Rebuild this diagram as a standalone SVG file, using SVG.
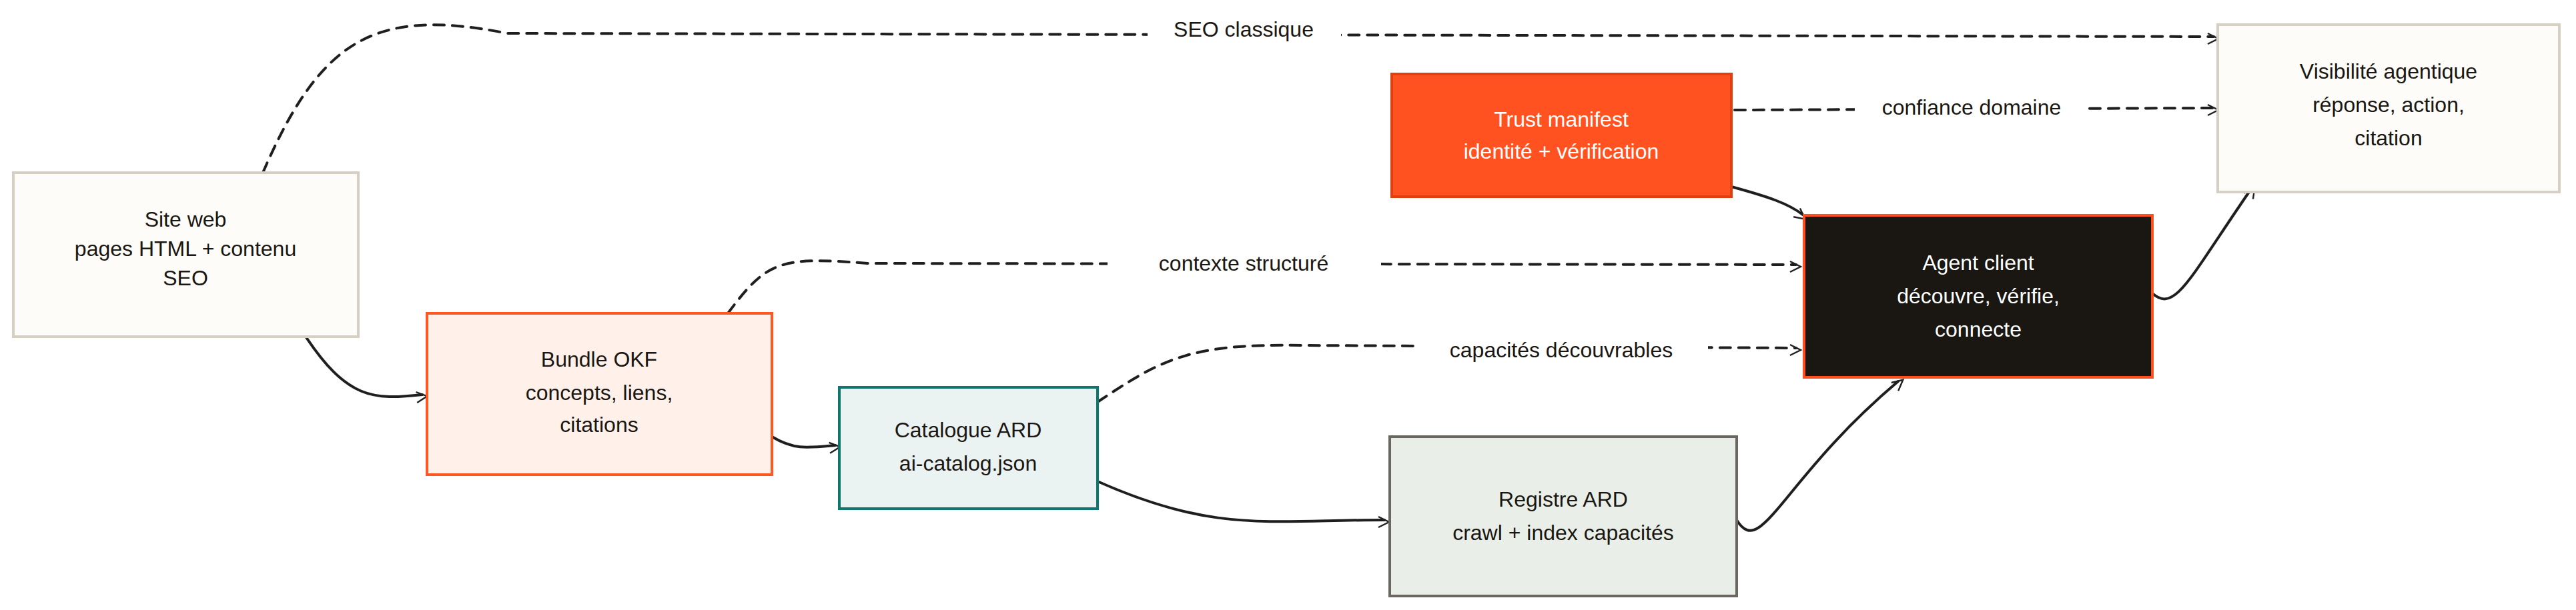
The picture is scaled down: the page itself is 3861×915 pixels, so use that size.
<svg xmlns="http://www.w3.org/2000/svg" width="3861" height="915" viewBox="0 0 3861 915">
<defs>
<style>
.t{font-family:"Liberation Sans",Arial,sans-serif;font-size:32px;fill:#1a1612;text-anchor:middle}
.w{fill:#ffffff}
.lbl{font-family:"Liberation Sans",Arial,sans-serif;font-size:32px;fill:#1a1612;text-anchor:middle}
.e{fill:none;stroke:#1e1e1e;stroke-width:4;stroke-linecap:round}
.d{stroke-dasharray:16 12}
</style>
<marker id="a" viewBox="0 0 20 20" refX="18" refY="10" markerWidth="10" markerHeight="10" markerUnits="userSpaceOnUse" orient="auto" overflow="visible">
<path d="M0,0 L20,10 L0,20" fill="none" stroke="#1e1e1e" stroke-width="3" transform="scale(1.6)"/>
</marker>
</defs>
<rect width="3861" height="915" fill="#ffffff"/>
<g id="connectors">
<path class="e" d="M455,500 C520,600 560,600 633,592" marker-end="url(#a)"/>
<path class="e d" d="M394,259 C480,60 560,10 760,50 L3318,55" marker-end="url(#a)"/>
<rect x="1720" y="20" width="290" height="44" fill="#fff"/>
<text class="lbl" x="1864" y="55">SEO classique</text>
<path class="e d" d="M1091,470 C1150,390 1170,385 1300,395 L2692,397" marker-end="url(#a)"/>
<rect x="1660" y="372" width="410" height="44" fill="#fff"/>
<text class="lbl" x="1864" y="406">contexte structuré</text>
<path class="e" d="M1157,655 C1190,675 1210,672 1252,668" marker-end="url(#a)"/>
<path class="e d" d="M1645,603 C1740,540 1780,515 1950,518 L2692,522" marker-end="url(#a)"/>
<rect x="2120" y="502" width="440" height="44" fill="#fff"/>
<text class="lbl" x="2340" y="536">capacités découvrables</text>
<path class="e" d="M1645,722 C1820,800 1900,780 2075,780" marker-end="url(#a)"/>
<path class="e" d="M2595,280 C2650,295 2680,305 2702,322" marker-end="url(#a)"/>
<path class="e d" d="M2600,165 L3318,162" marker-end="url(#a)"/>
<rect x="2780" y="138" width="350" height="44" fill="#fff"/>
<text class="lbl" x="2955" y="172">confiance domaine</text>
<path class="e" d="M2603,780 C2640,840 2670,720 2845,572" marker-end="url(#a)"/>
<path class="e" d="M3226,440 C3260,470 3280,420 3373,285" marker-end="url(#a)"/>
</g>
<g id="site-web">
<rect x="20" y="259" width="517" height="246" fill="#fdfcf8" stroke="#d6cfc4" stroke-width="4"/>
<text class="t" x="278" y="340">Site web</text>
<text class="t" x="278" y="384">pages HTML + contenu</text>
<text class="t" x="278" y="428">SEO</text>
</g>
<g id="bundle-okf">
<rect x="640" y="470" width="517" height="242" fill="#fff1ea" stroke="#ff5722" stroke-width="4"/>
<text class="t" x="898" y="550">Bundle OKF</text>
<text class="t" x="898" y="600">concepts, liens,</text>
<text class="t" x="898" y="648">citations</text>
</g>
<g id="catalogue-ard">
<rect x="1258" y="581" width="387" height="182" fill="#eaf2f2" stroke="#0f766e" stroke-width="4"/>
<text class="t" x="1451" y="656">Catalogue ARD</text>
<text class="t" x="1451" y="706">ai-catalog.json</text>
</g>
<g id="trust-manifest">
<rect x="2086" y="111" width="509" height="184" fill="#ff5220" stroke="#e04010" stroke-width="4"/>
<text class="t w" x="2340" y="190">Trust manifest</text>
<text class="t w" x="2340" y="238">identité + vérification</text>
</g>
<g id="agent-client">
<rect x="2704" y="323" width="522" height="243" fill="#1a1612" stroke="#ff4f1f" stroke-width="4"/>
<text class="t w" x="2965" y="405">Agent client</text>
<text class="t w" x="2965" y="455">découvre, vérifie,</text>
<text class="t w" x="2965" y="505">connecte</text>
</g>
<g id="visibilite">
<rect x="3324" y="37" width="512" height="251" fill="#fdfcf8" stroke="#d6cfc4" stroke-width="4"/>
<text class="t" x="3580" y="118">Visibilité agentique</text>
<text class="t" x="3580" y="168">réponse, action,</text>
<text class="t" x="3580" y="218">citation</text>
</g>
<g id="registre-ard">
<rect x="2083" y="655" width="520" height="239" fill="#e9efe8" stroke="#6b6660" stroke-width="4"/>
<text class="t" x="2343" y="760">Registre ARD</text>
<text class="t" x="2343" y="810">crawl + index capacités</text>
</g>
</svg>
